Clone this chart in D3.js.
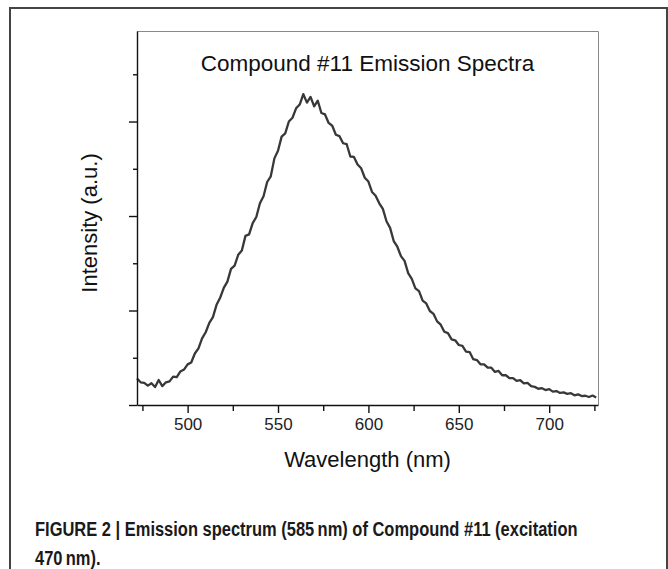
<!DOCTYPE html>
<html>
<head>
<meta charset="utf-8">
<script src="https://cdn.jsdelivr.net/npm/d3@7"></script>
<style>
  body { margin: 0; background: #fff; }
  svg { display: block; }
</style>
</head>
<body>
<div id="chart"></div>
<script>
// emission spectrum, intensity every 2 nm
const wlStart = 472, wlStep = 2;
const intensity = [
    280, 240, 235, 205, 230,
    190, 265, 200, 240, 250,
    300, 295, 355, 375, 430,
    450, 545, 600, 705, 770,
    870, 930, 1060, 1135, 1240,
    1305, 1440, 1475, 1590, 1635,
    1790, 1805, 1925, 1990, 2135,
    2210, 2360, 2420, 2610, 2690,
    2840, 2875, 3000, 3040, 3140,
    3180, 3290, 3200, 3260, 3160,
    3220, 3090, 3075, 2985, 2955,
    2860, 2845, 2770, 2760, 2630,
    2625, 2545, 2505, 2405, 2365,
    2255, 2215, 2135, 2075, 1945,
    1875, 1735, 1675, 1575, 1525,
    1395, 1335, 1235, 1205, 1105,
    1075, 995, 965, 885, 850,
    775, 760, 695, 685, 635,
    625, 565, 560, 485, 475,
    430, 430, 395, 395, 350,
    360, 315, 315, 285, 285,
    255, 262, 230, 235, 200,
    192, 172, 178, 158, 168,
    142, 148, 128, 133, 118,
    125, 103, 112, 95, 98,
    85, 100, 80
];
const wavelengths = intensity.map((d, i) => wlStart + i * wlStep);

const xMajor = [500, 550, 600, 650, 700];
const xMinor = [475, 525, 575, 625, 675, 725];
const yMajor = [0, 1000, 2000, 3000];
const yMinor = [500, 1500, 2500, 3500];

const titleText = "Compound #11 Emission Spectra";
const xLabel = "Wavelength (nm)";
const yLabel = "Intensity (a.u.)";
const caption1 = "FIGURE 2 | Emission spectrum (585\u2009nm) of Compound #11 (excitation";
const caption2 = "470\u2009nm).";

const W = 668, H = 569;
const plot = { left: 137, right: 598, top: 31, bottom: 405 };
const sans = "'Liberation Sans', Arial, sans-serif";

const svg = d3.select("#chart")
    .append("svg")
    .attr("width", W)
    .attr("height", H);

// outer figure frame
svg.append("rect")
    .attr("x", 10)
    .attr("y", 8)
    .attr("width", 657)
    .attr("height", 620)
    .attr("fill", "none")
    .attr("stroke", "#444")
    .attr("stroke-width", 2);

const x = d3.scaleLinear()
    .domain([472, 727])
    .range([plot.left, plot.right]);

const y = d3.scaleLinear()
    .domain([0, 3958])
    .range([plot.bottom, plot.top]);

// thin top/right frame of the plot
svg.append("path")
    .attr("d", `M${plot.left},${plot.top + 0.5}H${plot.right + 0.5}V${plot.bottom}`)
    .attr("fill", "none")
    .attr("stroke", "#888")
    .attr("stroke-width", 1);

// spectrum
const line = d3.line()
    .x((d, i) => x(wavelengths[i]))
    .y(d => y(d));

svg.append("path")
    .datum(intensity)
    .attr("d", line)
    .attr("fill", "none")
    .attr("stroke", "#383838")
    .attr("stroke-width", 2.3)
    .attr("stroke-linejoin", "round");

// x axis
const xAxis = svg.append("g")
    .attr("transform", `translate(0,${plot.bottom})`)
    .call(d3.axisBottom(x).tickValues(xMajor).tickSize(8).tickSizeOuter(0).tickPadding(5));
xAxis.append("g")
    .call(d3.axisBottom(x).tickValues(xMinor).tickSize(6).tickSizeOuter(0).tickFormat(""))
    .select(".domain").remove();
xAxis.selectAll("path, line").attr("stroke", "#111").attr("stroke-width", 1.4);
xAxis.selectAll("text")
    .style("font-family", sans)
    .style("font-size", "17px")
    .attr("fill", "#222");

// y axis (no labels)
const yAxis = svg.append("g")
    .attr("transform", `translate(${plot.left},0)`)
    .call(d3.axisLeft(y).tickValues(yMajor).tickSize(8).tickSizeOuter(0).tickFormat(""));
yAxis.append("g")
    .call(d3.axisLeft(y).tickValues(yMinor).tickSize(4).tickSizeOuter(0).tickFormat(""))
    .select(".domain").remove();
yAxis.selectAll("path, line").attr("stroke", "#111").attr("stroke-width", 1.4);

// title & axis labels
svg.append("text")
    .attr("x", (plot.left + plot.right) / 2)
    .attr("y", 71)
    .attr("text-anchor", "middle")
    .style("font-family", sans)
    .style("font-size", "22.5px")
    .attr("fill", "#111")
    .text(titleText);

svg.append("text")
    .attr("x", (plot.left + plot.right) / 2)
    .attr("y", 467)
    .attr("text-anchor", "middle")
    .style("font-family", sans)
    .style("font-size", "22px")
    .attr("fill", "#111")
    .text(xLabel);

svg.append("text")
    .attr("transform", "translate(97,223) rotate(-90)")
    .attr("text-anchor", "middle")
    .style("font-family", sans)
    .style("font-size", "22px")
    .attr("fill", "#111")
    .text(yLabel);

// caption, squeezed horizontally to the reference width
const cap = svg.append("g")
    .style("font-family", sans)
    .style("font-weight", "bold")
    .style("font-size", "20px")
    .attr("fill", "#1a1a1a");
const c1 = cap.append("text").text(caption1);
const c2 = cap.append("text").text(caption2);
const squeeze = 543 / c1.node().getComputedTextLength();
c1.attr("transform", `translate(35,536) scale(${squeeze},1)`);
c2.attr("transform", `translate(35,565) scale(${squeeze},1)`);
</script>
</body>
</html>
